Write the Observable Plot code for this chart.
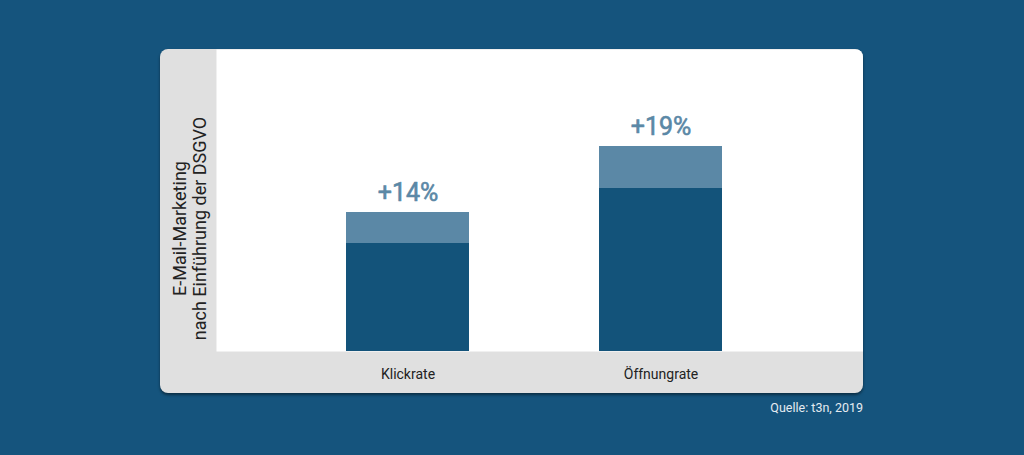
<!DOCTYPE html>
<html>
<head>
<meta charset="utf-8">
<script src="https://cdn.jsdelivr.net/npm/d3@7"></script>
<script src="https://cdn.jsdelivr.net/npm/@observablehq/plot@0.6"></script>
<style>
  html, body { margin: 0; padding: 0; }
  body { width: 1024px; height: 455px; background: #15547d; position: relative; overflow: hidden; font-family: Roboto, "Noto Sans", sans-serif; }
  #card { position: absolute; left: 160px; top: 49px; width: 703px; height: 344px; background: #e0e0e0; border-radius: 8px; overflow: hidden; box-shadow: 0 2px 3px rgba(0,0,0,0.45); }
  #card svg { display: block; }
  #source { position: absolute; right: 161px; top: 400px; color: #e4ebf1; font-size: 12.5px; }
</style>
</head>
<body>
<div id="card"></div>
<div id="source">Quelle: t3n, 2019</div>
<script>
const categories = ["Klickrate", "Öffnungrate"];
const before = [108, 163];
const increase = [31, 42];
const changeLabels = ["+14%", "+19%"];
const yTitle = "E-Mail-Marketing\nnach Einführung der DSGVO";
const parts = ["vorher", "Zuwachs"];

const rows = [];
categories.forEach((c, i) => {
  rows.push({cat: c, part: parts[0], v: before[i]});
  rows.push({cat: c, part: parts[1], v: increase[i]});
});
const totals = categories.map((c, i) => ({cat: c, total: before[i] + increase[i], label: changeLabels[i]}));

const chart = Plot.plot({
  width: 703,
  height: 344,
  marginTop: 0,
  marginRight: 0,
  marginBottom: 42,
  marginLeft: 56,
  style: {fontFamily: "Roboto, sans-serif", background: "transparent"},
  x: {domain: categories, paddingInner: 0.512, paddingOuter: 0.53, align: 0.48, axis: null},
  y: {domain: [0, 302], axis: null},
  color: {domain: parts, range: ["#13537a", "#5b88a6"]},
  marks: [
    Plot.frame({fill: "white", stroke: "none"}),
    Plot.barY(rows, {x: "cat", y: "v", fill: "part"}),
    Plot.text(totals, {x: "cat", y: "total", text: "label", dy: -20, lineAnchor: "middle", fontSize: 25, fontWeight: 400, fill: "#5b88a6", stroke: "#5b88a6", strokeWidth: 0.6}),
    Plot.axisX({tickSize: 0, tickPadding: 18, fontSize: 14, color: "#222", label: null}),
    Plot.text([yTitle], {frameAnchor: "left", dx: -27, dy: 28, rotate: -90, textAnchor: "middle", lineAnchor: "middle", lineHeight: 1.12, fontSize: 18, fill: "#222"})
  ]
});
document.getElementById("card").appendChild(chart);
</script>
</body>
</html>
